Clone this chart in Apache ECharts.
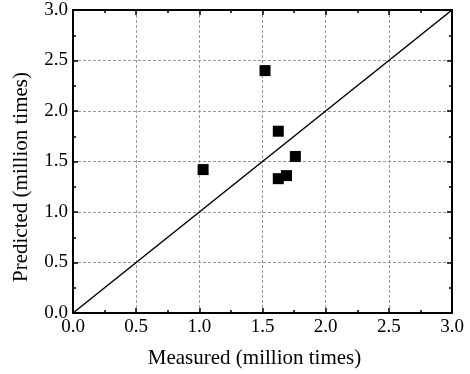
<!DOCTYPE html>
<html>
<head>
<meta charset="utf-8">
<script src="https://cdn.jsdelivr.net/npm/echarts@6/dist/echarts.min.js"></script>
<style>
  html, body { margin: 0; padding: 0; background: #fff; }
  #chart { width: 470px; height: 374px; }
</style>
</head>
<body>
<div id="chart"></div>
<script>
// measured vs predicted (million times)
const measured = [1.52, 1.625, 1.76, 1.03, 1.625, 1.69];
const predicted = [2.40, 1.80, 1.55, 1.42, 1.33, 1.36];
const diagonal = [[0, 0], [3, 3]];
const axisMin = 0, axisMax = 3, axisStep = 0.5;

const font = "'Liberation Serif', 'Times New Roman', serif";
const points = measured.map((m, i) => [m, predicted[i]]);

function axis(pos, show, name) {
  const isY = pos === "left";
  return {
    type: "value",
    position: pos,
    min: axisMin,
    max: axisMax,
    interval: axisStep,
    name: show ? name : "",
    nameLocation: "middle",
    nameGap: isY ? 41 : 35,
    nameTextStyle: {
      fontFamily: font, fontSize: 21, color: "#000",
      padding: isY ? [0, 31, 0, 0] : [0, 16, 0, 0],
    },
    axisLine: { show: true, onZero: false, lineStyle: { color: "#000", width: 2 } },
    axisTick: { show: true, inside: true, length: 5, lineStyle: { color: "#000", width: 1.5 } },
    minorTick: { show: true, splitNumber: 2, length: 3, lineStyle: { color: "#000", width: 1.5 } },
    axisLabel: {
      show: show,
      fontFamily: font,
      fontSize: 19,
      color: "#000",
      margin: 5,
      formatter: v => v.toFixed(1),
    },
    splitLine: {
      show: show,
      lineStyle: { color: "#999", type: [3, 2], width: 1 },
    },
  };
}

const chart = echarts.init(document.getElementById("chart"));
chart.setOption({
  animation: false,
  grid: { left: 73, top: 10, right: 18, bottom: 60 },
  xAxis: [axis("bottom", true, "Measured (million times)"), axis("top", false)],
  yAxis: [axis("left", true, "Predicted (million times)"), axis("right", false)],
  series: [
    {
      type: "line",
      data: diagonal,
      showSymbol: false,
      lineStyle: { color: "#000", width: 1.5 },
      z: 2,
    },
    {
      type: "scatter",
      data: points,
      symbol: "rect",
      symbolSize: 11,
      itemStyle: { color: "#000", opacity: 1 },
      z: 3,
    },
  ],
});
</script>
</body>
</html>
